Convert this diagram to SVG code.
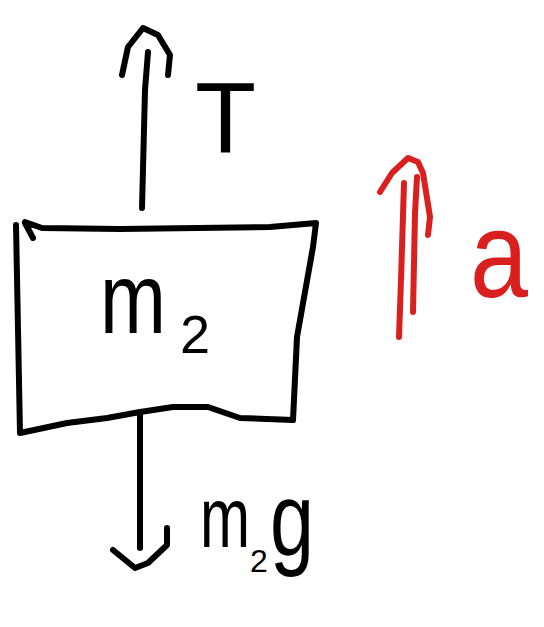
<svg xmlns="http://www.w3.org/2000/svg" width="544" height="627" viewBox="0 0 544 627">
<style>
.ink{fill:none;stroke:#000;stroke-width:6;stroke-linecap:round;stroke-linejoin:round}
.red{fill:none;stroke:#d9201f;stroke-width:6;stroke-linecap:round;stroke-linejoin:round}
.lbl{font-family:"Liberation Sans",Arial,sans-serif;fill:#000}
</style>
<rect width="544" height="627" fill="#fff"/>
<g id="block">
<path class="ink" d="M16,225 L20,433 L67,423 L107,418 L140,412 L173,407 L208,407 L240,418 L293,420 L297,337 L313,247 L316,223 L270,227 L120,229 L42,228 L25,222 M25,223 L33,238"/>
<text class="lbl"><tspan x="100" y="333" font-size="100" textLength="66" lengthAdjust="spacingAndGlyphs">m</tspan><tspan x="180" y="353" font-size="54">2</tspan></text>
</g>
<g id="connectors">
<g id="tension">
<path class="ink" d="M142,208 L145,90 L148,52"/>
<path class="ink" d="M122,75 L128,47 L143,28 L158,35 L170,55 L168,75"/>
</g>
<g id="weight">
<path class="ink" d="M140,413 L140,548"/>
<path class="ink" d="M113,550 L135,568 L148,563 L167,545 L167,528"/>
</g>
<g id="acceleration">
<path class="red" d="M399,337 L401,280 L404,183"/>
<path class="red" d="M413,312 L415,213 L417,177"/>
<path class="red" d="M380,192 L392,173 L408,158 L418,162 L423,173 L430,217 L428,235"/>
</g>
</g>
<g id="labels">
<text id="label-T" class="lbl" x="195" y="152" font-size="100">T</text>
<text id="label-mg" class="lbl"><tspan x="200" y="547" font-size="86" textLength="50" lengthAdjust="spacingAndGlyphs">m</tspan><tspan x="250" y="572" font-size="32">2</tspan><tspan x="270" y="555" font-size="104" textLength="44" lengthAdjust="spacingAndGlyphs">g</tspan></text>
<text id="label-a" x="470" y="297" font-size="122" textLength="58" lengthAdjust="spacingAndGlyphs" style="font-family:'Liberation Sans',Arial,sans-serif;fill:#d9201f">a</text>
</g>
</svg>
